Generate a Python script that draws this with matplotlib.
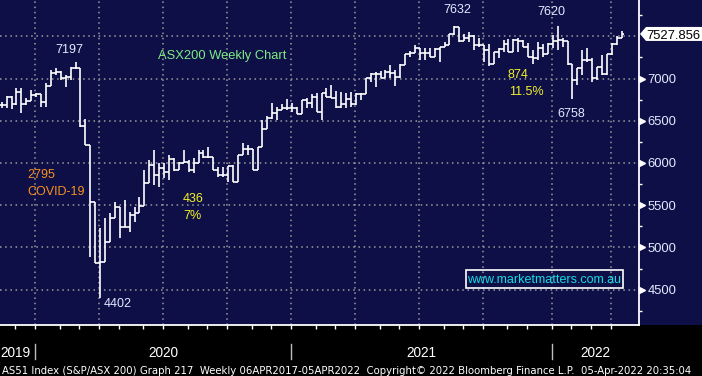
import numpy as np
import pandas as pd
import matplotlib
matplotlib.use("Agg")
import matplotlib.pyplot as plt
import matplotlib.transforms as mtransforms
from matplotlib.patches import Polygon, Rectangle

NAVY = '#0f0f47'
GRID = '#9c9c9c'
LABEL = '#e2eaff'

# weekly OHLC of the ASX200 (week ending Friday)
first_week = '2019-11-15'
opens = [6690, 6687, 6785, 6694, 6836, 6700, 6738, 6805, 6813, 6718,
         6915, 7061, 7081, 7002, 7022, 7121, 7121, 6440, 6213, 5542,
         4812, 4832, 5068, 5345, 5483, 5238, 5238, 5384, 5404, 5491,
         5759, 5976, 5860, 5937, 5897, 6045, 5917, 6005, 6016, 5917,
         6003, 6114, 6067, 6067, 5917, 5858, 5858, 5964, 5779, 6095,
         6162, 6162, 5917, 6193, 6402, 6529, 6588, 6627, 6647, 6655,
         6655, 6576, 6746, 6706, 6785, 6608, 6833, 6785, 6773, 6667,
         6694, 6758, 6694, 6813, 6813, 7002, 7050, 7050, 7010, 7073,
         7060, 7022, 7160, 7286, 7298, 7357, 7298, 7298, 7259, 7345,
         7377, 7397, 7523, 7614, 7444, 7476, 7507, 7397, 7397, 7338,
         7168, 7318, 7349, 7405, 7310, 7456, 7444, 7377, 7259, 7239,
         7357, 7286, 7405, 7444, 7456, 7444, 7168, 6982, 7120, 7219,
         7219, 7002, 7140, 7050, 7286, 7405, 7484]
highs = [6726, 6797, 6797, 6884, 6884, 6765, 6864, 6826, 6820, 6943,
         7101, 7129, 7085, 7042, 7140, 7197, 7125, 6521, 6213, 5542,
         5226, 5352, 5413, 5542, 5483, 5562, 5424, 5483, 5601, 5917,
         6035, 6154, 5996, 5996, 6095, 6055, 6016, 6154, 6035, 6055,
         6154, 6154, 6193, 6075, 5956, 5950, 5964, 5976, 6095, 6233,
         6213, 6162, 6193, 6509, 6560, 6706, 6667, 6694, 6758, 6706,
         6667, 6746, 6765, 6813, 6825, 6833, 6892, 6923, 6852, 6844,
         6825, 6844, 6825, 6825, 7002, 7061, 7081, 7089, 7101, 7160,
         7101, 7168, 7286, 7326, 7397, 7357, 7365, 7357, 7365, 7377,
         7428, 7523, 7626, 7614, 7523, 7547, 7515, 7476, 7397, 7405,
         7318, 7357, 7456, 7468, 7468, 7476, 7456, 7416, 7338, 7428,
         7405, 7416, 7515, 7622, 7484, 7448, 7170, 7120, 7338, 7357,
         7239, 7140, 7278, 7286, 7416, 7507, 7563]
lows = [6655, 6647, 6639, 6687, 6588, 6690, 6730, 6785, 6667, 6667,
        6915, 7042, 6982, 6896, 6982, 7110, 6430, 6213, 4883, 4812,
        4402, 4832, 5068, 5345, 5108, 5238, 5187, 5305, 5404, 5491,
        5759, 5740, 5720, 5818, 5800, 5900, 5917, 5996, 5897, 5878,
        5996, 6055, 6055, 5917, 5838, 5838, 5779, 5779, 5779, 6095,
        6095, 5917, 5917, 6193, 6402, 6521, 6509, 6627, 6627, 6608,
        6576, 6576, 6655, 6647, 6600, 6509, 6785, 6765, 6655, 6655,
        6647, 6667, 6686, 6746, 6813, 6963, 6904, 7010, 7010, 7002,
        6915, 7002, 7160, 7259, 7298, 7219, 7219, 7259, 7259, 7200,
        7377, 7397, 7515, 7428, 7444, 7436, 7338, 7377, 7200, 7152,
        7168, 7239, 7318, 7310, 7310, 7318, 7377, 7259, 7168, 7219,
        7259, 7286, 7357, 7338, 7377, 7160, 6757, 6923, 7042, 7200,
        6963, 6982, 7042, 7042, 7278, 7397, 7476]
closes = [6687, 6785, 6694, 6836, 6694, 6738, 6805, 6813, 6718, 6915,
          7061, 7081, 7002, 7022, 7121, 7121, 6440, 6213, 5542, 4812,
          4832, 5068, 5345, 5483, 5238, 5238, 5384, 5404, 5491, 5759,
          5976, 5860, 5937, 5897, 6045, 5917, 6005, 6016, 5917, 6003,
          6114, 6067, 6067, 5917, 5858, 5858, 5964, 5779, 6095, 6162,
          6162, 5917, 6193, 6402, 6529, 6588, 6627, 6647, 6655, 6655,
          6576, 6746, 6706, 6785, 6608, 6833, 6785, 6773, 6667, 6694,
          6758, 6694, 6813, 6813, 7002, 7050, 7050, 7010, 7073, 7060,
          7022, 7160, 7286, 7298, 7357, 7298, 7298, 7259, 7345, 7377,
          7397, 7523, 7614, 7444, 7476, 7507, 7397, 7397, 7338, 7168,
          7318, 7349, 7405, 7310, 7456, 7444, 7377, 7259, 7239, 7357,
          7286, 7405, 7444, 7456, 7444, 7168, 6982, 7120, 7219, 7219,
          7002, 7140, 7050, 7286, 7405, 7484, 7527.856]

y_ticks = [4500, 5000, 5500, 6000, 6500, 7000]
y_grid = [4500, 5000, 5500, 6000, 6500, 7000, 7500]
y_minor = [4250, 4750, 5250, 5750, 6250, 6750, 7250, 7750]
years = ['2019', '2020', '2021', '2022']

footer = ("AS51 Index (S&P/ASX 200) Graph 217  Weekly 06APR2017-05APR2022  "
          "Copyright\u00a9 2022 Bloomberg Finance L.P.  05-Apr-2022 20:35:04")

dates = pd.date_range(first_week, periods=len(closes), freq='W-FRI')
x = np.arange(len(closes))

# months are marked at the first weekly bar of each month
months = pd.date_range('2019-12-01', '2022-04-01', freq='MS')
month_pos = np.searchsorted(dates, months) - 0.2
quarter_pos = month_pos[np.isin(months.month, [1, 4, 7, 10])]
year_pos = month_pos[months.month == 1]

W, H = 702, 376
step = 4.92  # px per week
fig = plt.figure(figsize=(W / 100, H / 100), dpi=100, facecolor=NAVY)
fig.patches.append(Rectangle((0, 0), 1, 51 / H, transform=fig.transFigure,
                             facecolor='black', edgecolor='none', zorder=-5))
ax = fig.add_axes([0, 1 - 325 / H, 639 / W, 325 / H])
ax.set_facecolor(NAVY)

x0 = -1.7 / step
ax.set_xlim(x0, x0 + 639 / step)
ax.set_ylim(7500 - (325 - 36.3) * 11.84, 7500 + 36.3 * 11.84)

dots = (0, (1, 2.4))
for v in y_grid:
    ax.axhline(v, color=GRID, lw=1.1, ls=dots, zorder=1)
for q in quarter_pos:
    ax.axvline(q, color=GRID, lw=1.1, ls=dots, zorder=1)

# OHLC bars
ax.vlines(x, lows, highs, color='white', lw=1.2, zorder=3)
ax.hlines(opens, x - 0.5, x, color='white', lw=1.2, zorder=3)
ax.hlines(closes, x, x + 0.5, color='white', lw=1.2, zorder=3)

for s in ['top', 'left']:
    ax.spines[s].set_visible(False)
ax.spines['right'].set_color('white')
ax.spines['right'].set_linewidth(1.3)
ax.spines['bottom'].set_color('white')
ax.spines['bottom'].set_linewidth(1.3)

ax.set_xticks(month_pos)
ax.tick_params(axis='x', direction='out', length=3, width=1, color='white',
               labelbottom=False)
ax.yaxis.tick_right()
ax.set_yticks(y_ticks)
ax.set_yticks(y_minor, minor=True)
ax.tick_params(axis='y', which='major', length=0, pad=6, labelcolor=LABEL,
               labelsize=9.4, labelfontfamily='Liberation Sans')
ax.tick_params(axis='y', which='minor', length=2.5, width=1, color='white')
ax.plot([1.005] * len(y_ticks), y_ticks, ls='none', marker='>', ms=4.5,
        color='white', transform=ax.get_yaxis_transform(), clip_on=False)


def fpt(px, py):
    return (px / W, 1 - py / H)


# last price box
py = 36.3 - (closes[-1] - 7500) * 0.08447
box = Polygon([fpt(640, py), fpt(646, py - 7), fpt(702, py - 7),
               fpt(702, py + 7), fpt(646, py + 7)], closed=True,
              transform=fig.transFigure, facecolor='white', edgecolor='none')
fig.patches.append(box)


def label(px, py, s, color, ha='left', size=9.0, family='Liberation Sans'):
    # py is the visual centre of the digits, in px from the top
    base = py + 0.358 * size * 100 / 72
    return fig.text(px / W, 1 - base / H, s, color=color, ha=ha, va='baseline',
                    fontsize=size, family=family)


label(673, py, f'{closes[-1]:.3f}', 'black', ha='center', size=9.4)

label(69, 49, '7197', LABEL, ha='center')
label(158, 54, 'ASX200 Weekly Chart', '#7cec84', size=9.3)
label(27, 174, '2795', '#f7901e')
label(27, 191, 'COVID-19', '#f7901e')
label(183, 198, '436', '#f2f22a')
label(183, 214.5, '7%', '#f2f22a')
label(118, 303, '4402', LABEL, ha='center')
label(457, 9, '7632', LABEL, ha='center')
label(551, 11, '7620', LABEL, ha='center')
label(508, 73.5, '874', '#f2f22a')
label(509, 90.5, '11.5%', '#f2f22a')
label(571, 112.5, '6758', LABEL, ha='center')

fig.patches.append(Rectangle(fpt(466, 288), 157 / W, 18 / H, transform=fig.transFigure,
                             facecolor='none', edgecolor='white', lw=1.2, zorder=5))
label(544.5, 279, 'www.marketmatters.com.au', '#14dce6', ha='center')

# year strip under the axis
narrow = ['Liberation Sans Narrow', 'DejaVu Sans']
yt = mtransforms.blended_transform_factory(ax.transData, fig.transFigure)
for yp in year_pos:
    ax.plot([yp, yp], [1 - 344 / H, 1 - 359 / H], color='#bdbdbd', lw=1,
            transform=yt, clip_on=False)
edges = [x0] + list(year_pos) + [ax.get_xlim()[1]]
for i, yr in enumerate(years):
    xp = x0 if i == 0 else (edges[i] + edges[i + 1]) / 2
    ax.text(xp, 1 - 357 / H, yr, color='white', fontsize=9.8,
            family='Liberation Sans', ha='left' if i == 0 else 'center',
            va='baseline', transform=yt)

foot = fig.text(2 / W, 1 - 374 / H, footer, color='white', fontsize=8,
                family=narrow, va='baseline')
fig.canvas.draw()
w = foot.get_window_extent().width
foot.set_fontsize(8 * 697 / w)

fig.savefig('out.png', dpi=100, facecolor=NAVY)
